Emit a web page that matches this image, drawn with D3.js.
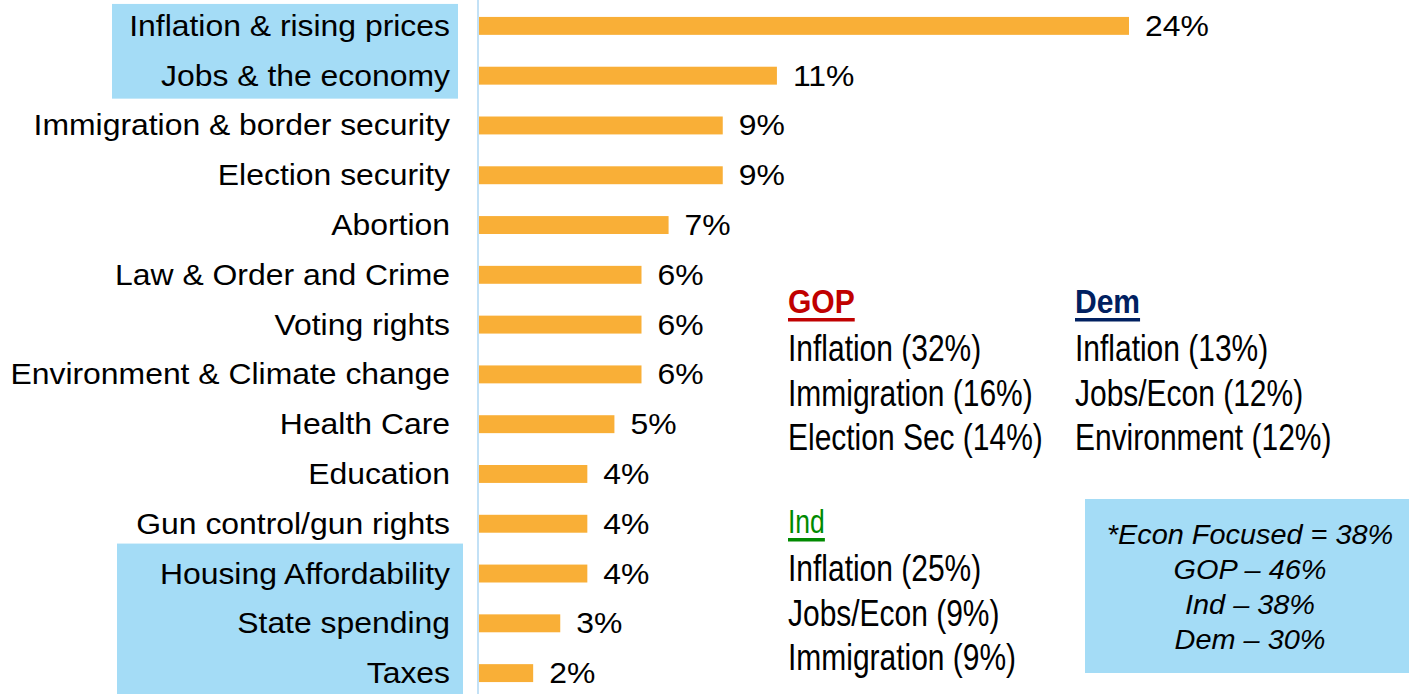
<!DOCTYPE html>
<html>
<head>
<meta charset="utf-8">
<script src="https://cdn.jsdelivr.net/npm/d3@7/dist/d3.min.js"></script>
<style>
  html, body { margin: 0; padding: 0; background: #fff; }
  svg { display: block; font-family: "Liberation Sans", Arial, sans-serif; }
</style>
</head>
<body>
<svg id="chart"></svg>
<script>
const categories = [
  'Inflation & rising prices', 'Jobs & the economy', 'Immigration & border security',
  'Election security', 'Abortion', 'Law & Order and Crime', 'Voting rights',
  'Environment & Climate change', 'Health Care', 'Education', 'Gun control/gun rights',
  'Housing Affordability', 'State spending', 'Taxes'
];
const values = [24, 11, 9, 9, 7, 6, 6, 6, 5, 4, 4, 4, 3, 2];
const econGroups = [[0, 1], [11, 13]];

const gopTop = [['Inflation', 32], ['Immigration', 16], ['Election Sec', 14]];
const demTop = [['Inflation', 13], ['Jobs/Econ', 12], ['Environment', 12]];
const indTop = [['Inflation', 25], ['Jobs/Econ', 9], ['Immigration', 9]];

const econFocus = [['*Econ Focused =', 38], ['GOP –', 46], ['Ind –', 38], ['Dem –', 30]];

const width = 1411;
const height = 694;

const svg = d3.select('#chart')
  .attr('width', width)
  .attr('height', height);

const x = d3.scaleLinear().domain([0, 24]).range([479, 1129]);
const y = d3.scaleBand()
  .domain(categories)
  .range([1, 698])
  .paddingInner(0.64)
  .paddingOuter(0.32);

// text stretched horizontally around its anchor point
const stretchText = (sel, sx) => sel.attr('transform', function () {
  const tx = +this.getAttribute('data-x');
  const ty = +this.getAttribute('data-y');
  return `translate(${tx},${ty}) scale(${sx},1)`;
});

// highlighted (economy) label boxes
const boxX = [[112, 458], [117, 463]];
const boxPad = [13, 21];
svg.append('g')
  .selectAll('rect')
  .data(econGroups)
  .enter().append('rect')
  .attr('x', (d, i) => boxX[i][0])
  .attr('width', (d, i) => boxX[i][1] - boxX[i][0])
  .attr('y', (d, i) => y(categories[d[0]]) - boxPad[i])
  .attr('height', (d, i) => {
    const bottom = i === 1 ? height : y(categories[d[1]]) + y.bandwidth() + 14;
    return bottom - (y(categories[d[0]]) - boxPad[i]);
  })
  .style('fill', '#a4dcf6');

// axis line
svg.append('line')
  .attr('x1', 478).attr('x2', 478)
  .attr('y1', 0).attr('y2', height)
  .style('stroke', '#c3e1f6')
  .style('stroke-width', 2);

svg.append('g')
  .selectAll('rect')
  .data(values)
  .enter().append('rect')
  .attr('x', x(0))
  .attr('y', (d, i) => y(categories[i]))
  .attr('width', d => x(d) - x(0))
  .attr('height', y.bandwidth())
  .style('fill', '#f9af37');

svg.append('g')
  .selectAll('text')
  .data(categories)
  .enter().append('text')
  .attr('data-x', 450)
  .attr('data-y', d => y(d) + y.bandwidth() / 2 + 10)
  .attr('text-anchor', 'end')
  .style('font-size', '29px')
  .style('fill', '#000')
  .text(d => d)
  .call(stretchText, 1.1);

svg.append('g')
  .selectAll('text')
  .data(values)
  .enter().append('text')
  .attr('data-x', d => x(d) + 16)
  .attr('data-y', (d, i) => y(categories[i]) + y.bandwidth() / 2 + 10)
  .style('font-size', '29px')
  .style('fill', '#000')
  .text(d => `${d}%`)
  .call(stretchText, 1.1);

// party top issues
const partyBlock = (name, color, bold, items, px, py) => {
  const g = svg.append('g');
  const sx = bold ? 0.91 : 0.78;
  const head = g.append('text')
    .attr('data-x', px)
    .attr('data-y', py)
    .style('font-size', bold ? '33px' : '34px')
    .style('font-weight', bold ? 'bold' : 'normal')
    .style('fill', color)
    .text(name)
    .call(stretchText, sx);
  const w = head.node().getComputedTextLength() * sx;
  g.append('rect')
    .attr('x', px)
    .attr('y', py + 5)
    .attr('width', w)
    .attr('height', 3.5)
    .style('fill', color);
  g.selectAll('text.item')
    .data(items)
    .enter().append('text')
    .attr('class', 'item')
    .attr('data-x', px)
    .attr('data-y', (d, i) => py + 48 + i * 44.5)
    .style('font-size', '37px')
    .style('fill', '#000')
    .text(d => `${d[0]} (${d[1]}%)`)
    .call(stretchText, 0.81);
};

partyBlock('GOP', '#c00000', true, gopTop, 788, 313);
partyBlock('Dem', '#002060', true, demTop, 1075, 313);
partyBlock('Ind', '#008a00', false, indTop, 788, 533);

// econ focused box
svg.append('rect')
  .attr('x', 1085)
  .attr('y', 499)
  .attr('width', 324)
  .attr('height', 174)
  .style('fill', '#a4dcf6');

svg.append('g')
  .selectAll('text')
  .data(econFocus)
  .enter().append('text')
  .attr('data-x', 1250)
  .attr('data-y', (d, i) => 544 + i * 35)
  .attr('text-anchor', 'middle')
  .style('font-size', '27px')
  .style('font-style', 'italic')
  .style('fill', '#000')
  .text(d => `${d[0]} ${d[1]}%`)
  .call(stretchText, 1.07);
</script>
</body>
</html>
